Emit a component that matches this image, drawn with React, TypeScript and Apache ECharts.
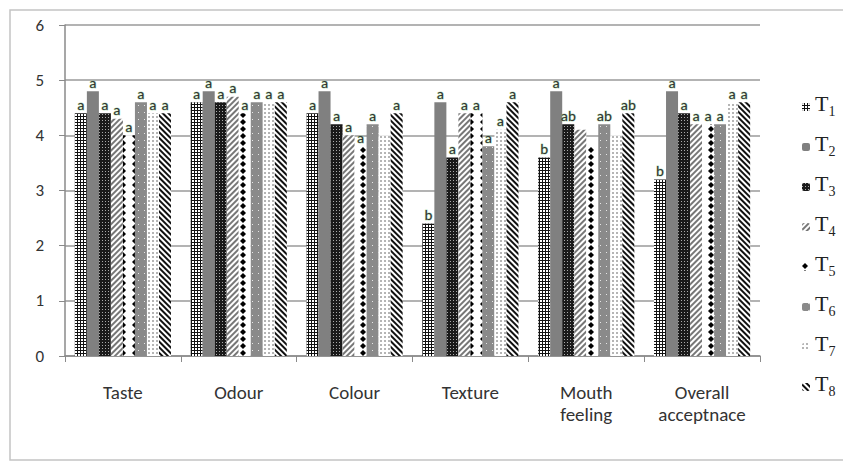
import React, { useEffect, useRef } from "react";
import * as echarts from "echarts";

const categories = ["Taste", "Odour", "Colour", "Texture", "Mouth\nfeeling", "Overall\nacceptnace"];
const seriesNames = ["T1", "T2", "T3", "T4", "T5", "T6", "T7", "T8"];

const T1 = [4.4, 4.6, 4.4, 2.4, 3.6, 3.2];
const T2 = [4.8, 4.8, 4.8, 4.6, 4.8, 4.8];
const T3 = [4.4, 4.6, 4.2, 3.6, 4.2, 4.4];
const T4 = [4.3, 4.7, 4.0, 4.4, 4.1, 4.2];
const T5 = [4.0, 4.4, 3.8, 4.4, 3.8, 4.2];
const T6 = [4.6, 4.6, 4.2, 3.8, 4.2, 4.2];
const T7 = [4.4, 4.6, 4.0, 4.1, 4.0, 4.6];
const T8 = [4.4, 4.6, 4.4, 4.6, 4.4, 4.6];

const L1 = ["a", "a", "a", "b", "b", "b"];
const L2 = ["a", "a", "a", "a", "a", "a"];
const L3 = ["a", "a", "a", "a", "ab", "a"];
const L4 = ["a", "a", "a", "a", "", "a"];
const L5 = ["a", "a", "a", "a", "", "a"];
const L6 = ["a", "a", "a", "a", "ab", "a"];
const L7 = ["a", "a", "", "a", "", "a"];
const L8 = ["a", "a", "a", "a", "ab", "a"];

const yTicks = [0, 1, 2, 3, 4, 5, 6];

const values = [T1, T2, T3, T4, T5, T6, T7, T8];
const letters = [L1, L2, L3, L4, L5, L6, L7, L8];

const styles: any[] = [
  { color: "#111", decal: { symbol: "rect", symbolSize: 1, color: "#fff", dashArrayX: [2, 1], dashArrayY: [2, 1] } },
  { color: "#808080" },
  { color: "#1a1a1a", decal: { symbol: "rect", symbolSize: 1, color: "#aaa", dashArrayX: [1, 2], dashArrayY: [1, 2] } },
  { color: "#fff", decal: { symbol: "rect", symbolSize: 1, color: "#777", dashArrayX: [1, 0], dashArrayY: [2, 2], rotation: -Math.PI / 4 } },
  { color: "#fff", decal: { symbol: "diamond", symbolSize: 1, color: "#000", dashArrayX: [6, 6], dashArrayY: [6, 1] } },
  { color: "#8a8a8a", decal: { symbol: "rect", symbolSize: 1, color: "#e6e6e6", dashArrayX: [1, 5], dashArrayY: [1, 6] } },
  { color: "#fff", decal: { symbol: "rect", symbolSize: 1, color: "#b5b5b5", dashArrayX: [2, 2], dashArrayY: [2, 2] } },
  { color: "#fff", decal: { symbol: "rect", symbolSize: 1, color: "#111", dashArrayX: [1, 0], dashArrayY: [2, 2], rotation: Math.PI / 4 } },
];

const FONT = 'Carlito, "Liberation Sans Narrow", Lato, sans-serif';

export default function App() {
  const ref = useRef<HTMLDivElement>(null);
  useEffect(() => {
    document.body.style.margin = "0";
    const chart = echarts.init(ref.current!, undefined, { renderer: "svg" });
    const series = seriesNames.map((name, i) => ({
      name,
      type: "bar",
      barGap: "0%",
      barCategoryGap: "17%",
      itemStyle: styles[i],
      data: values[i],
      label: {
        show: true,
        position: "top",
        distance: 1,
        formatter: (p: any) => letters[i][p.dataIndex],
        fontSize: 15,
        fontFamily: FONT,
        color: "#333",
        textBorderColor: "rgba(120,200,120,0.55)",
        textBorderWidth: 1,
      },
    }));
    chart.setOption({
      animation: false,
      backgroundColor: "#fff",
      graphic: [
        {
          type: "rect",
          shape: { x: 10, y: 10, width: 850, height: 450 },
          style: { fill: "none", stroke: "#c4c4c4", lineWidth: 1.5 },
          z: -1,
        },
      ],
      grid: { left: 65, right: 83, top: 25, bottom: 107 },
      legend: {
        orient: "vertical",
        left: 797,
        top: 87,
        itemWidth: 8,
        itemHeight: 8,
        itemGap: 14,
        data: seriesNames,
        formatter: (name: string) => "{t|T}{s|" + name.slice(1) + "}",
        textStyle: {
          rich: {
            t: { fontSize: 22, fontFamily: "Liberation Serif", color: "#222", verticalAlign: "bottom", lineHeight: 22, padding: [0, 0, 4, 0] },
            s: { fontSize: 14, fontFamily: "Liberation Serif", color: "#222", verticalAlign: "bottom", lineHeight: 13 },
          },
        },
      },
      xAxis: {
        type: "category",
        data: categories,
        axisLine: { lineStyle: { color: "#8a8a8a", width: 1.5 } },
        axisTick: { show: true, length: 6, alignWithLabel: false, lineStyle: { color: "#8a8a8a" } },
        axisLabel: { fontSize: 19, fontFamily: FONT, color: "#333", margin: 25, lineHeight: 22, interval: 0 },
      },
      yAxis: {
        type: "value",
        min: yTicks[0],
        max: yTicks[yTicks.length - 1],
        interval: 1,
        axisLine: { show: true, lineStyle: { color: "#8a8a8a", width: 1.5 } },
        axisTick: { show: true, length: 6, lineStyle: { color: "#8a8a8a" } },
        axisLabel: { fontSize: 17, fontFamily: FONT, color: "#333", margin: 21 },
        splitLine: { lineStyle: { color: "#9a9a9a", width: 1.5 } },
      },
      series,
    });
    return () => chart.dispose();
  }, []);
  return <div ref={ref} style={{ width: 843, height: 463 }} />;
}
